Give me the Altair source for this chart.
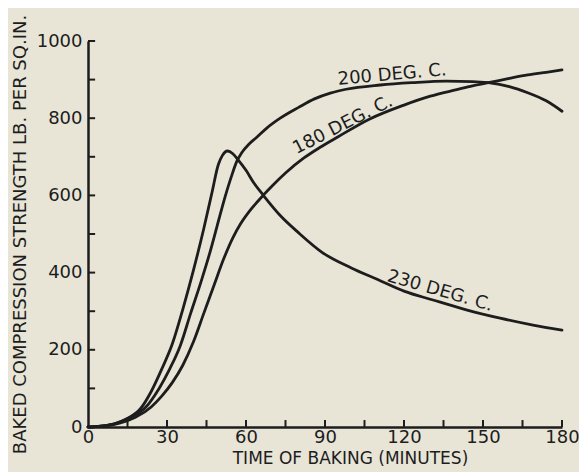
import altair as alt
import pandas as pd

INK = "#1d1d1d"
PAPER = "#e8e5d7"
FONT = "DejaVu Sans"

# ---- data ----
series_names = ["230 DEG. C.", "200 DEG. C.", "180 DEG. C."]

t230 = [0, 5, 10, 15, 20, 24, 28, 32, 36, 40, 44, 47, 49.5, 51, 53, 55, 57, 60, 63,
        66.5, 73, 80, 89, 100, 110, 120, 131, 144, 156.5, 169, 180]
v230 = [0, 2, 8, 22, 48, 92, 150, 215, 305, 405, 515, 605, 680, 703, 715, 708, 692,
        665, 632, 601, 548, 503, 452, 412, 382, 352, 329, 303, 282, 264, 251]

t200 = [0, 5, 11, 16, 22, 27, 31, 35, 39, 43, 46, 49, 52, 54.5, 56.5, 58.5, 61, 64, 68,
        73, 80, 86, 92, 98, 111, 123, 136, 146, 152, 160, 167, 174, 180]
v200 = [0, 2, 10, 25, 52, 100, 150, 210, 295, 378, 445, 520, 595, 650, 688, 712, 732,
        750, 775, 800, 828, 850, 865, 875, 886, 892, 896, 895, 892, 882, 866, 845, 818]

t180 = [0, 6, 12, 18, 24, 28, 32, 36, 40, 44, 48, 51.5, 55, 58, 62, 66.5, 70, 75, 82,
        88, 95, 107, 120, 130, 140, 146, 152, 160, 167, 174, 180]
v180 = [0, 3, 10, 25, 52, 80, 115, 160, 220, 295, 370, 435, 490, 527, 565, 600, 625,
        658, 697, 724, 752, 798, 834, 857, 874, 884, 892, 903, 912, 919, 925]

x_tick_labels = [0, 30, 60, 90, 120, 150, 180]
y_tick_labels = [0, 200, 400, 600, 800, 1000]
x_minor_ticks = [15, 30, 45, 60, 75, 90, 105, 120, 135, 150, 165, 180]
y_minor_ticks = [100, 200, 300, 400, 500, 600, 700, 800, 900, 1000]

label_t = [133.7, 115.5, 96.8]
label_v = [352, 912, 782]
label_angle = [16, 355, 333]

# ---- tables built from the arrays ----
rows = []
for name, ts, vs in zip(series_names, [t230, t200, t180], [v230, v200, v180]):
    for t, v in zip(ts, vs):
        rows.append({"series": name, "t": t, "v": v})
df = pd.DataFrame(rows)

x_scale = alt.Scale(domain=[0, 180], nice=False, zero=False)
y_scale = alt.Scale(domain=[0, 1000], nice=False, zero=False)

x_axis = alt.Axis(
    values=x_tick_labels, format="d", title="TIME OF BAKING (MINUTES)", grid=False,
    ticks=False, domainColor=INK, domainWidth=2.5, labelColor=INK, labelFont=FONT,
    labelFontSize=18, labelPadding=1, labelFlush=False, titleFont=FONT, titleFontSize=17,
    titleFontWeight="normal", titleColor=INK, titleX=262, titleY=31,
    titleBaseline="middle", titleAlign="center",
)
y_axis = alt.Axis(
    values=y_tick_labels, format="d", title="BAKED COMPRESSION STRENGTH LB. PER SQ.IN.",
    grid=False, ticks=False, domainColor=INK, domainWidth=2.5, labelColor=INK,
    labelFont=FONT, labelFontSize=18, labelPadding=6, labelFlush=False, titleFont=FONT,
    titleFontSize=18, titleFontWeight="normal", titleColor=INK, titleX=-68, titleY=193,
    titleAngle=270, titleBaseline="middle", titleAlign="center",
)

lines = alt.Chart(df).mark_line(
    interpolate="monotone", strokeWidth=2.8, color=INK, strokeCap="round"
).encode(
    x=alt.X("t:Q", scale=x_scale, axis=x_axis),
    y=alt.Y("v:Q", scale=y_scale, axis=y_axis),
    detail="series:N",
)

X_TICK_LEN = 18   # in value units (about 7 px)
Y_TICK_LEN = 2.7  # in minutes (about 7 px)

xt = pd.DataFrame({"t": x_minor_ticks})
x_ticks = alt.Chart(xt).mark_rule(color=INK, strokeWidth=2).encode(
    x=alt.X("t:Q", scale=x_scale),
    y=alt.datum(0),
    y2=alt.datum(X_TICK_LEN),
)
yt = pd.DataFrame({"v": y_minor_ticks})
y_ticks = alt.Chart(yt).mark_rule(color=INK, strokeWidth=2).encode(
    y=alt.Y("v:Q", scale=y_scale),
    x=alt.datum(0),
    x2=alt.datum(Y_TICK_LEN),
)

texts = []
for name, t, v, a in zip(series_names, label_t, label_v, label_angle):
    d = pd.DataFrame({"text": [name], "t": [t], "v": [v]})
    texts.append(
        alt.Chart(d).mark_text(
            font=FONT, fontSize=18, color=INK, angle=a, align="center", baseline="middle"
        ).encode(x=alt.X("t:Q", scale=x_scale), y=alt.Y("v:Q", scale=y_scale), text="text:N")
    )

chart = alt.layer(lines, x_ticks, y_ticks, *texts).properties(
    width=474, height=386,
    autosize=alt.AutoSizeParams(type="none"),
    padding={"left": 80, "top": 33, "right": 17, "bottom": 45},
    background=PAPER,
).configure_view(stroke=None)

chart.save("out.html", embed_options={"renderer": "svg", "actions": False})
